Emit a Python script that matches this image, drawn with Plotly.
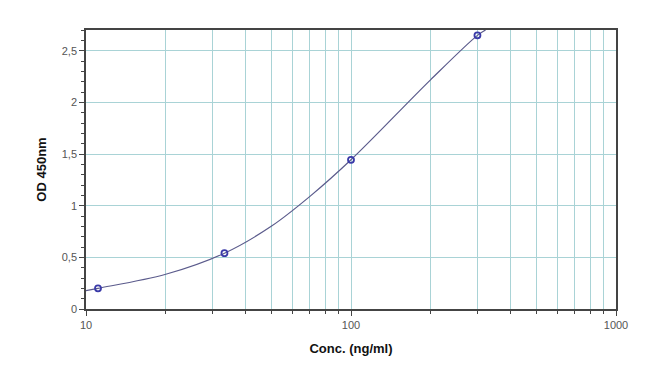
import plotly.graph_objects as go

# Standard points
std_conc = [11.1, 33.3, 100, 300]
std_od = [0.20, 0.54, 1.444, 2.648]

# Fitted curve
curve_conc = [10, 11.1, 20, 33.3, 50, 70, 100, 200, 300, 322]
curve_od = [0.177, 0.20, 0.336, 0.54, 0.80, 1.09, 1.444, 2.22, 2.648, 2.70]

x_tickvals = [10, 100, 1000]
x_ticktext = ["10", "100", "1000"]
y_tickvals = [0, 0.5, 1, 1.5, 2, 2.5]
y_ticktext = ["0", "0,5", "1", "1,5", "2", "2,5"]

grid_col = "#a9d3d6"
axis_col = "#444444"
font_fam = "Liberation Sans, Arial, sans-serif"

fig = go.Figure()
fig.add_trace(go.Scatter(
    x=curve_conc, y=curve_od, mode="lines",
    line=dict(color="#5b5b8c", width=1.2, shape="spline", smoothing=1.0),
    hoverinfo="skip", showlegend=False,
))
fig.add_trace(go.Scatter(
    x=std_conc, y=std_od, mode="markers",
    marker=dict(symbol="circle-open", size=6, color="#3a3aa8", line=dict(width=1.8, color="#3a3aa8")),
    showlegend=False, cliponaxis=False,
))

fig.update_layout(
    width=650, height=375,
    margin=dict(l=86, r=34, t=30, b=66),
    paper_bgcolor="white", plot_bgcolor="white",
    font=dict(family=font_fam, size=11, color="#555555"),
)
fig.update_xaxes(
    type="log", range=[1, 3],
    tickvals=x_tickvals, ticktext=x_ticktext,
    showgrid=True, gridcolor=grid_col, gridwidth=1,
    ticks="outside", ticklen=5, tickcolor=axis_col, tickwidth=1,
    minor=dict(showgrid=True, gridcolor=grid_col, gridwidth=1, ticks="outside", ticklen=3, tickcolor=axis_col,
               tickvals=[20, 30, 40, 50, 60, 70, 80, 90, 200, 300, 400, 500, 600, 700, 800, 900]),
    showline=True, linecolor=axis_col, linewidth=1.5, mirror=True,
    zeroline=False,
    title=dict(text="<b>Conc. (ng/ml)</b>", font=dict(family=font_fam, size=13, color="#111111"), standoff=14),
    tickfont=dict(size=11, color="#555555"),
)
fig.update_yaxes(
    range=[0, 2.7],
    tickvals=y_tickvals, ticktext=y_ticktext,
    showgrid=True, gridcolor=grid_col, gridwidth=1,
    ticks="outside", ticklen=5, tickcolor=axis_col, tickwidth=1,
    minor=dict(dtick=0.1, ticks="outside", ticklen=3, tickcolor=axis_col, showgrid=False),
    showline=True, linecolor=axis_col, linewidth=1.5, mirror=True,
    zeroline=False,
    title=dict(text="<b>OD 450nm</b>", font=dict(family=font_fam, size=13, color="#111111"), standoff=12),
    tickfont=dict(size=11, color="#555555"),
)

fig.write_html("out.html")
